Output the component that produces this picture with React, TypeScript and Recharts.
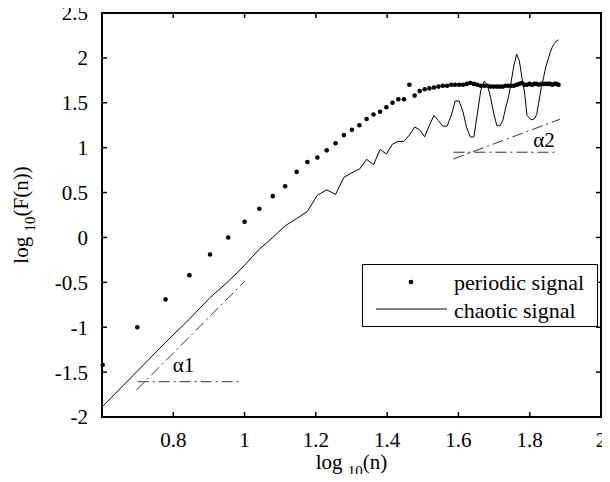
import {
  ComposedChart,
  Line,
  XAxis,
  YAxis,
  ReferenceLine,
  ReferenceDot,
} from "recharts";

const FONT = "Liberation Serif, Times New Roman, serif";

// window sizes n (x axis is log10 n)
const nValues = [
  4, 5, 6, 7, 8, 9, 10,
  11, 12, 13, 14, 15, 16, 17, 18, 19, 20,
  21, 22, 23, 24, 25, 26, 27, 28, 29, 30,
  31, 32, 33, 34, 35, 36, 37, 38, 39, 40,
  41, 42, 43, 44, 45, 46, 47, 48, 49, 50,
  51, 52, 53, 54, 55, 56, 57, 58, 59, 60,
  61, 62, 63, 64, 65, 66, 67, 68, 69, 70,
  71, 72, 73, 74, 75, 76,
];

const periodic = [
  -1.42, -1.0, -0.69, -0.42, -0.19, 0.0, 0.175,
  0.32, 0.46, 0.57, 0.73, 0.84, 0.89, 0.97, 1.05, 1.14, 1.2,
  1.25, 1.32, 1.37, 1.4, 1.45, 1.5, 1.54, 1.54, 1.7, 1.58,
  1.63, 1.65, 1.66, 1.67, 1.68, 1.69, 1.69, 1.7, 1.7, 1.7,
  1.7, 1.71, 1.72, 1.71, 1.7, 1.69, 1.69, 1.69, 1.68, 1.68,
  1.68, 1.68, 1.68, 1.69, 1.69, 1.69, 1.69, 1.7, 1.71, 1.72,
  1.7, 1.7, 1.71, 1.7, 1.71, 1.71, 1.7, 1.71, 1.71, 1.71,
  1.71, 1.71, 1.7, 1.71, 1.71, 1.7,
];

const chaotic = [
  -1.88, -1.49, -1.17, -0.91, -0.67, -0.49, -0.31,
  -0.13, 0.0, 0.13, 0.21, 0.29, 0.47, 0.53, 0.48, 0.67, 0.72,
  0.76, 0.87, 0.81, 0.98, 0.93, 1.04, 1.07, 1.07, 1.14, 1.23,
  1.2, 1.12, 1.25, 1.36, 1.3, 1.24, 1.24, 1.36, 1.52, 1.52,
  1.4, 1.22, 1.12, 1.12, 1.38, 1.64, 1.74, 1.7, 1.56, 1.38,
  1.25, 1.24, 1.3, 1.44, 1.56, 1.74, 1.92, 2.04, 1.97, 1.78,
  1.62, 1.36, 1.33, 1.31, 1.32, 1.37, 1.52, 1.67, 1.78, 1.9,
  1.98, 2.06, 2.12, 2.16, 2.19, 2.2,
];

const xDomain = [0.6, 2];
const yDomain = [-2, 2.5];
const xTicks = [0.8, 1, 1.2, 1.4, 1.6, 1.8, 2];
const yTicks = [-2, -1.5, -1, -0.5, 0, 0.5, 1, 1.5, 2, 2.5];

// slope guide lines (dash-dot) and their labels
const alpha1Flat = [{ x: 0.7, y: -1.607 }, { x: 0.99, y: -1.607 }];
const alpha1Slope = [{ x: 0.697, y: -1.7 }, { x: 1.0, y: -0.49 }];
const alpha2Flat = [{ x: 1.586, y: 0.949 }, { x: 1.874, y: 0.949 }];
const alpha2Slope = [{ x: 1.586, y: 0.874 }, { x: 1.885, y: 1.317 }];
const alphaLabels = [
  { x: 0.829, y: -1.42, text: "α1" },
  { x: 1.84, y: 1.085, text: "α2" },
];

const rows = nValues.map((n, i) => ({
  x: Math.log10(n),
  periodic: periodic[i],
  chaotic: chaotic[i],
}));

const tickStyle = { fill: "#000", fontSize: 21, fontFamily: FONT };
const frame = { stroke: "#000", strokeWidth: 1.5 };

const XLabel = ({ viewBox }: any) => {
  const cx = viewBox.x + viewBox.width / 2;
  return (
    <text x={cx} y={469} textAnchor="middle" fontFamily={FONT} fontSize={21} fill="#000">
      log{" "}
      <tspan dy={7} fontSize={15}>10</tspan>
      <tspan dy={-7}>(n)</tspan>
    </text>
  );
};

const YLabel = ({ viewBox }: any) => {
  const cy = viewBox.y + viewBox.height / 2;
  return (
    <text
      x={28}
      y={cy}
      transform={`rotate(-90, 28, ${cy})`}
      textAnchor="middle"
      fontFamily={FONT}
      fontSize={21}
      fill="#000"
    >
      log{" "}
      <tspan dy={7} fontSize={15}>10</tspan>
      <tspan dy={-7}>(F(n))</tspan>
    </text>
  );
};

const guide = { stroke: "#333", strokeWidth: 1, strokeDasharray: "11 4 2 4" };

export default function App() {
  return (
    <div style={{ position: "relative", width: 610, height: 482, margin: -8, fontFamily: FONT }}>
      <ComposedChart
        width={610}
        height={482}
        data={rows}
        margin={{ top: 12, right: 8, left: 0, bottom: 0 }}
      >
        <XAxis
          dataKey="x"
          type="number"
          domain={xDomain}
          ticks={xTicks}
          height={65}
          tickSize={-5}
          tickMargin={20}
          tick={tickStyle}
          axisLine={frame}
          tickLine={frame}
          label={<XLabel />}
        />
        <XAxis
          xAxisId="top"
          dataKey="x"
          orientation="top"
          type="number"
          domain={xDomain}
          ticks={xTicks}
          height={1}
          tickSize={-5}
          tickFormatter={() => ""}
          axisLine={frame}
          tickLine={frame}
        />
        <YAxis
          type="number"
          domain={yDomain}
          ticks={yTicks}
          width={102}
          tickSize={-5}
          tickMargin={19}
          tick={tickStyle}
          axisLine={frame}
          tickLine={frame}
          label={<YLabel />}
        />
        <YAxis
          yAxisId="right"
          orientation="right"
          type="number"
          domain={yDomain}
          ticks={yTicks}
          width={1}
          tickSize={-5}
          tickFormatter={() => ""}
          axisLine={frame}
          tickLine={frame}
        />

        {/* box frame on the domain bounds */}
        <ReferenceLine x={xDomain[0]} stroke="#000" strokeWidth={2} ifOverflow="visible" />
        <ReferenceLine x={xDomain[1]} stroke="#000" strokeWidth={2} ifOverflow="visible" />
        <ReferenceLine y={yDomain[0]} stroke="#000" strokeWidth={2} ifOverflow="visible" />
        <ReferenceLine y={yDomain[1]} stroke="#000" strokeWidth={2} ifOverflow="visible" />

        <ReferenceLine segment={alpha1Flat} {...guide} />
        <ReferenceLine segment={alpha1Slope} {...guide} />
        <ReferenceLine segment={alpha2Flat} {...guide} />
        <ReferenceLine segment={alpha2Slope} {...guide} />

        <Line
          type="linear"
          dataKey="chaotic"
          stroke="#000"
          strokeWidth={1}
          dot={false}
          activeDot={false}
          isAnimationActive={false}
        />
        <Line
          type="linear"
          dataKey="periodic"
          xAxisId="top"
          yAxisId="right"
          stroke="none"
          dot={{ r: 2.3, fill: "#000", stroke: "none" }}
          activeDot={false}
          isAnimationActive={false}
        />

        {alphaLabels.map((a) => (
          <ReferenceDot
            key={a.text}
            x={a.x}
            y={a.y}
            r={0}
            fill="none"
            stroke="none"
            label={{ value: a.text, position: "center", fill: "#000", fontSize: 21, fontFamily: FONT }}
          />
        ))}
      </ComposedChart>

      {/* plot box outline */}
      <div
        style={{
          position: "absolute",
          left: 101,
          top: 12,
          width: 501,
          height: 406,
          boxSizing: "border-box",
          border: "1px solid #000",
          pointerEvents: "none",
        }}
      />

      <div
        style={{
          position: "absolute",
          left: 362,
          top: 264,
          width: 236,
          height: 63,
          boxSizing: "border-box",
          border: "1px solid #000",
          background: "#fff",
        }}
      >
        <svg width={234} height={61} style={{ display: "block" }}>
          <circle cx={48} cy={17} r={2.3} fill="#000" />
          <line x1={13} y1={44} x2={84} y2={44} stroke="#000" strokeWidth={1} />
          <text x={91} y={25} fontFamily={FONT} fontSize={22} fill="#000">periodic signal</text>
          <text x={91} y={53} fontFamily={FONT} fontSize={22} fill="#000">chaotic signal</text>
        </svg>
      </div>
    </div>
  );
}
